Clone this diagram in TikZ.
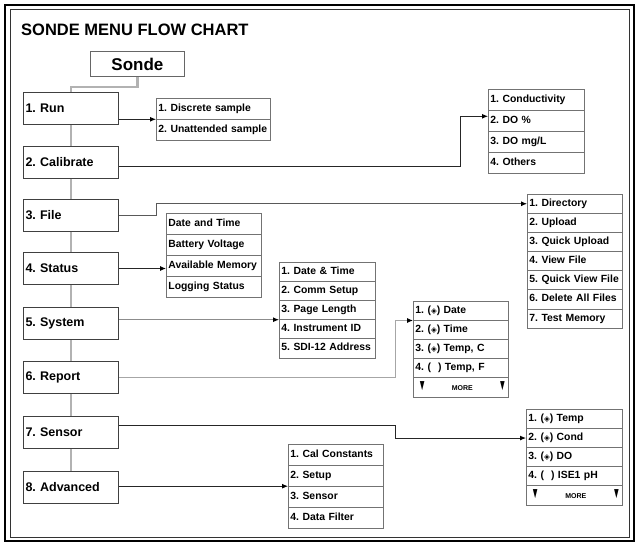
\documentclass[tikz,border=0pt]{standalone}
\usepackage{fontspec}
\setmainfont{Liberation Sans}
\newfontfamily\symfont{DejaVu Sans}
\usetikzlibrary{shapes.multipart, arrows.meta, calc}
\frenchspacing
\newcommand{\rs}{\rule[-3pt]{0pt}{11pt}}
\newcommand{\dmark}{{\symfont\fontsize{7.5}{7.5}\selectfont ◈}}
\newcommand{\downtri}{\scalebox{0.75}[1.5]{▼}}
\newcommand{\morerow}{\hspace{3pt}\downtri\hfill{\fontsize{7}{7}\selectfont MORE}\hfill\downtri\hspace{3pt}}

\begin{document}
\begin{tikzpicture}[x=1pt, y=-1pt,
    menu/.style={draw=black!75, line width=1pt, fill=white, anchor=north west, minimum width=95pt, minimum height=32pt, text width=91pt, inner xsep=2pt, font=\fontsize{12.5}{14}\selectfont\bfseries},
    sub/.style={draw=black!55, line width=0.8pt, fill=white, anchor=north west, rectangle split, text width=91pt, inner xsep=2pt, font=\fontsize{10.4}{12}\selectfont\bfseries\rs},
    tall/.style={sub, inner ysep=4.55pt},
    short/.style={sub, inner ysep=3.65pt},
    trunk/.style={draw=black!30, line width=2.2pt},
    arr/.style={draw=black!85, line width=0.9pt, -{Latex[length=6pt, width=5pt, color=black]}},
    soft/.style={arr, draw=black!45}]
    \useasboundingbox (0,0) rectangle (637,545);
    \draw[line width=2.5pt] (5,5) rectangle (634,541);
    \draw[line width=1pt, draw=black!80] (10,10) rectangle (629.5,537);
    \node[anchor=west, inner sep=0pt, font=\fontsize{16.5}{18}\selectfont\bfseries] (title) at (21,30) {SONDE MENU FLOW CHART};
    \node[draw=black!60, line width=0.9pt, anchor=north west, minimum width=94pt, minimum height=25pt, font=\fontsize{17}{19}\selectfont\bfseries] (sonde) at (90,51) {Sonde};

    % main menu
    \node[menu] (run) at (23,92) {1. Run};
    \node[menu] (cal) at (23,146) {2. Calibrate};
    \node[menu] (file) at (23,199) {3. File};
    \node[menu] (status) at (23,252) {4. Status};
    \node[menu] (system) at (23,307) {5. System};
    \node[menu] (report) at (23,361) {6. Report};
    \node[menu] (sensor) at (23,416) {7. Sensor};
    \node[menu] (adv) at (23,471) {8. Advanced};

    % sub menus
    \node[tall, rectangle split parts=2, text width=110pt] (runsub) at (156,98) {1. Discrete sample \nodepart{two} 2. Unattended sample};
    \node[tall, rectangle split parts=4, text width=92pt] (calsub) at (488,89) {1. Conductivity \nodepart{two} 2. DO \% \nodepart{three} 3. DO mg/L \nodepart{four} 4. Others};
    \node[short, rectangle split parts=7] (filesub) at (527,194) {1. Directory \nodepart{two} 2. Upload \nodepart{three} 3. Quick Upload \nodepart{four} 4. View File \nodepart{five} 5. Quick View File \nodepart{six} 6. Delete All Files \nodepart{seven} 7. Test Memory};
    \node[tall, rectangle split parts=4] (statsub) at (166,213) {Date and Time \nodepart{two} Battery Voltage \nodepart{three} Available Memory \nodepart{four} Logging Status};
    \node[short, rectangle split parts=5, text width=92pt] (syssub) at (279,262) {1. Date \& Time \nodepart{two} 2. Comm Setup \nodepart{three} 3. Page Length \nodepart{four} 4. Instrument ID \nodepart{five} 5. SDI-12 Address};
    \node[short, rectangle split parts=5] (repsub) at (413,301) {1. (\dmark) Date \nodepart{two} 2. (\dmark) Time \nodepart{three} 3. (\dmark) Temp, C \nodepart{four} 4. (\hspace{7pt}) Temp, F \nodepart{five} \morerow};
    \node[short, rectangle split parts=5, text width=92pt] (sensub) at (526,409) {1. (\dmark) Temp \nodepart{two} 2. (\dmark) Cond \nodepart{three} 3. (\dmark) DO \nodepart{four} 4. (\hspace{7pt}) ISE1 pH \nodepart{five} \morerow};
    \node[tall, rectangle split parts=4] (advsub) at (288,444) {1. Cal Constants \nodepart{two} 2. Setup \nodepart{three} 3. Sensor \nodepart{four} 4. Data Filter};

    % connectors
    \draw[trunk] (sonde.south) -- ++(0,10) -| (run.north);
    \foreach \a/\b in {run/cal, cal/file, file/status, status/system, system/report, report/sensor, sensor/adv}
        \draw[trunk] (\a) -- (\b);
    \draw[arr] (runsub.text split west -| run.east) -- (runsub.text split west);
    \draw[arr] ([yshift=-4pt]cal.east) -- ++(341,0) |- ([yshift=-6pt]calsub.text split west);
    \draw[arr, draw=black!65] (file.east) -- ++(37,0) |- ($(filesub.north west)!0.5!(filesub.text split west)$);
    \draw[arr] (status.east) -- (status.east -| statsub.north west);
    \draw[soft] (syssub.three split west -| system.east) -- (syssub.three split west);
    \draw[soft, draw=black!35] (report.east) -- ++(276,0) |- (repsub.text split west);
    \draw[arr] ([yshift=7pt]sensor.east) -- ++(276,0) |- ($(sensub.text split west)!0.5!(sensub.two split west)$);
    \draw[arr] (advsub.two split west -| adv.east) -- (advsub.two split west);
\end{tikzpicture}
\end{document}
